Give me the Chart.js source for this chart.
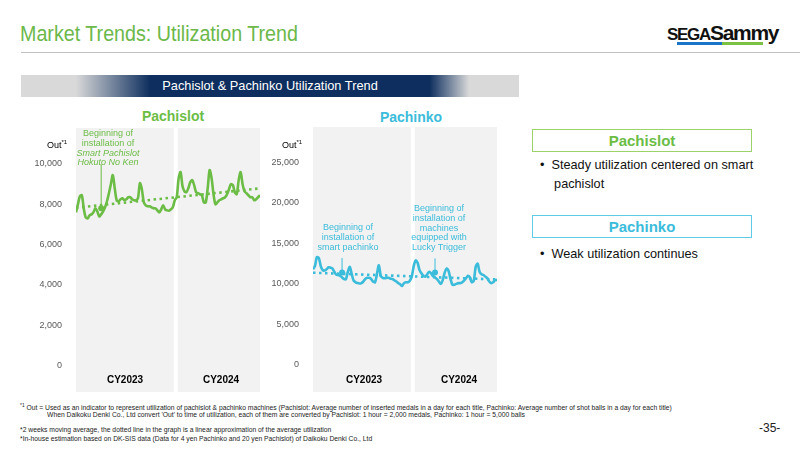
<!DOCTYPE html>
<html><head><meta charset="utf-8">
<script src="https://cdn.jsdelivr.net/npm/chart.js@4.4.1/dist/chart.umd.min.js"></script>
<style>
body{margin:0;width:800px;height:450px;position:relative;overflow:hidden;background:#fff;font-family:"Liberation Sans",Arial,sans-serif;}
.a{position:absolute;white-space:nowrap;}
.note{position:absolute;text-align:center;font-size:9px;line-height:9.8px;white-space:nowrap;transform:translateX(-50%);}
.cy{position:absolute;font-weight:bold;font-size:10px;transform:translateX(-50%);color:#000;}
.out{position:absolute;font-size:9px;color:#000;}
.out sup{font-size:6px;vertical-align:4px;}
.box{position:absolute;left:532px;width:218px;height:21px;border:1.5px solid;text-align:center;font-weight:bold;font-size:15px;line-height:21px;}
.bul{position:absolute;left:540px;font-size:12.7px;line-height:19px;color:#111;}
.fn{position:absolute;left:20px;font-family:"Liberation Sans Narrow","Arial Narrow",sans-serif;font-size:7px;color:#222;white-space:nowrap;transform:scaleX(0.965);transform-origin:0 0;}
</style></head><body>

<div class="a" style="left:20px;top:21px;font-family:'Liberation Sans',Arial,sans-serif;font-size:22.5px;color:#6cb84a;transform:scaleX(0.875);transform-origin:0 0;">Market Trends: Utilization Trend</div>
<div class="a" style="left:21px;top:52px;width:779px;height:1px;background:#c0c0c0;"></div>

<div class="a" style="left:667px;top:21px;font-weight:bold;color:#111;letter-spacing:-1.3px;font-family:'Liberation Sans',Arial,sans-serif;"><span style="font-size:17px;">SEGA</span><span style="font-size:21px;">Sammy</span></div>
<div class="a" style="left:677px;top:42px;width:45px;height:3px;background:#1a75c9;"></div>
<div class="a" style="left:722px;top:42px;width:41px;height:3px;background:#7bc144;"></div>

<div class="a" style="left:21px;top:75px;width:498px;height:22px;background:linear-gradient(to right,#d9d9d9 0%,#d9d9d9 11%,#0d2e5e 26%,#0d2e5e 82%,#d9d9d9 90%,#d9d9d9 100%);color:#fff;text-align:center;font-size:12.8px;line-height:22px;">Pachislot &amp; Pachinko Utilization Trend</div>

<div class="a" style="left:173px;top:108px;transform:translateX(-50%);font-weight:bold;font-size:14px;color:#6cbd45;">Pachislot</div>
<div class="a" style="left:411px;top:109px;transform:translateX(-50%);font-weight:bold;font-size:14px;color:#3bbcdb;">Pachinko</div>

<div class="a" style="left:30px;top:128px;"><canvas id="c1" width="234" height="264"></canvas></div>
<div class="a" style="left:270px;top:127px;"><canvas id="c2" width="231" height="265"></canvas></div>

<div class="out" style="left:47px;top:139px;">Out<sup>*1</sup></div>
<div class="out" style="left:282px;top:139px;">Out<sup>*1</sup></div>

<div class="note" style="left:108px;top:129px;color:#6cbd45;">Beginning of<br>installation of<br><i>Smart Pachislot</i><br><i>Hokuto No Ken</i></div>
<div class="note" style="left:348px;top:223px;color:#3bbcdb;">Beginning of<br>installation of<br>smart pachinko</div>
<div class="note" style="left:439px;top:204px;color:#3bbcdb;">Beginning of<br>installation of<br>machines<br>equipped with<br>Lucky Trigger</div>

<div class="cy" style="left:125px;top:374px;">CY2023</div>
<div class="cy" style="left:221px;top:374px;">CY2024</div>
<div class="cy" style="left:364px;top:374px;">CY2023</div>
<div class="cy" style="left:459px;top:374px;">CY2024</div>

<div class="box" style="top:129px;border-color:#9bd36a;color:#6cbd45;">Pachislot</div>
<div class="bul" style="top:156px;">•&nbsp;&nbsp;Steady utilization centered on smart<br>&nbsp;&nbsp;&nbsp;&nbsp;pachislot</div>
<div class="box" style="top:215px;border-color:#5fcbe6;color:#3bbcdb;">Pachinko</div>
<div class="bul" style="top:245px;">•&nbsp;&nbsp;Weak utilization continues</div>

<div class="fn" style="top:402px;"><sup style="font-size:5px;">*1</sup> Out = Used as an indicator to represent utilization of pachislot &amp; pachinko machines (Pachislot: Average number of inserted medals in a day for each title, Pachinko: Average number of shot balls in a day for each title)</div>
<div class="fn" style="top:411px;left:47px;">When Daikoku Denki Co., Ltd convert 'Out' to time of utilization, each of them are converted by Pachislot: 1 hour = 2,000 medals, Pachinko: 1 hour = 5,000 balls</div>
<div class="fn" style="top:426px;">*2 weeks moving average, the dotted line in the graph is a linear approximation of the average utilization</div>
<div class="fn" style="top:435px;">*In-house estimation based on DK-SIS data (Data for 4 yen Pachinko and 20 yen Pachislot) of Daikoku Denki Co., Ltd</div>
<div class="a" style="left:759px;top:421px;font-size:12px;color:#222;">-35-</div>

<script>
// Weekly index: 0-51 = CY2023, 52-95 = CY2024
const yearLabels = ["CY2023", "CY2024"];
const weeksIn2023 = 52;

const pachislotOut = [7600,8000,8400,8450,7800,7350,7300,7450,7500,7600,7800,7650,7400,7500,7650,7850,8150,8550,9000,9450,
  8800,8200,8150,8250,8300,8200,8250,8350,8350,8250,8200,8200,8300,9050,8750,8100,7950,7900,7900,7850,
  7800,7800,7700,7600,7750,7950,7750,7700,7680,7750,7850,8200,
  8350,9300,9600,8900,8650,8600,8800,9100,9200,8950,8600,8550,8500,8450,8100,8100,8800,9700,
  9300,8500,8000,8100,8200,8250,8300,8350,8500,8750,9000,8950,8600,8500,9200,9600,9000,8650,8550,8450,
  8350,8350,8200,8250,8350,8450];
const pachislotTrend = [7830, 8790];
const pachislotTicks = [0, 2000, 4000, 6000, 8000, 10000];
const pachislotNote = {week: 13, out: 7800, top: 9980};

const pachinkoOut = [11800,12200,13300,13200,12200,11700,11650,11800,12050,12000,11900,11500,11150,11100,11000,10800,10600,10600,11500,12100,
  11200,10400,10200,10100,10050,10100,10300,10600,10750,10750,10600,10300,10200,11200,12300,11000,10750,10700,10750,10750,
  10650,10600,10450,10300,10100,9950,9750,10100,10200,10200,10400,10900,
  12200,12900,12600,11700,11300,11000,10900,11200,11500,11300,10950,10800,10600,10300,10000,10500,11400,11900,
  11600,10600,9900,9900,10000,10100,10100,10200,10400,10700,11000,10800,10200,10400,12100,12500,11500,11200,11100,10900,
  10700,10300,10100,10200,10450,10500];
const pachinkoTrend = [11380, 10550];
const pachinkoTicks = [0, 5000, 10000, 15000, 20000, 25000];
const pachinkoNotes = [{week: 15, out: 11400, top: 13200}, {week: 63, out: 11400, top: 13150}];

// zeroPx: pixel row of value 0 inside the canvas; pxPerUnit: pixels per unit of Out
function makeChart(id, values, trend, ticks, notes, color, zeroPx, pxPerUnit, axisW) {
  const last = values.length - 1;
  const canvas = document.getElementById(id);
  const H = canvas.height;
  const datasets = [
    {data: values.map((v, i) => ({x: i, y: v})), borderColor: color, borderWidth: 2.6, pointRadius: 0, tension: 0.3, fill: false},
    {data: [{x: 0, y: trend[0]}, {x: last, y: trend[1]}], borderColor: color, borderWidth: 2.6, borderDash: [2.5, 3.5], pointRadius: 0, fill: false}
  ];
  notes.forEach(n => {
    datasets.push({data: [{x: n.week, y: n.out}, {x: n.week, y: n.top}], borderColor: color, borderWidth: 1,
      pointRadius: c => c.dataIndex === 0 ? 3 : 0, pointBackgroundColor: color, pointBorderWidth: 0, fill: false});
  });
  const bands = {
    id: 'bands',
    beforeDatasetsDraw(chart) {
      const {ctx, chartArea: a, scales: {x}} = chart;
      const xb = x.getPixelForValue(weeksIn2023 - 0.5);
      ctx.save();
      ctx.fillStyle = '#f2f2f2';
      ctx.fillRect(a.left, 0, xb - 2 - a.left, chart.height);
      ctx.fillRect(xb + 2, 0, a.right - xb - 2, chart.height);
      ctx.restore();
    }
  };
  const chart = new Chart(canvas, {
    type: 'line',
    data: {datasets},
    plugins: [bands],
    options: {
      responsive: false, animation: false, events: [],
      layout: {padding: 0},
      plugins: {legend: {display: false}, tooltip: {enabled: false}, title: {display: false}},
      scales: {
        x: {type: 'linear', min: 0, max: last, display: false},
        y: {
          min: (zeroPx - H) / pxPerUnit, max: zeroPx / pxPerUnit,
          afterBuildTicks: s => { s.ticks = ticks.map(v => ({value: v})); },
          afterFit: s => { s.width = axisW; s.paddingTop = 0; s.paddingBottom = 0; },
          grid: {display: false}, border: {display: false},
          ticks: {padding: 6, color: '#595959', font: {family: 'Liberation Sans, Arial, sans-serif', size: 9},
            callback: v => v.toLocaleString('en-US')}
        }
      }
    }
  });
  // keep the value→pixel mapping fixed whatever area the layout leaves
  const a = chart.chartArea;
  chart.options.scales.y.min = (zeroPx - a.bottom) / pxPerUnit;
  chart.options.scales.y.max = (zeroPx - a.top) / pxPerUnit;
  chart.update();
  return chart;
}

makeChart('c1', pachislotOut, pachislotTrend, pachislotTicks, [pachislotNote], '#6cbd45', 237.5, 0.02015, 46);
makeChart('c2', pachinkoOut, pachinkoTrend, pachinkoTicks, pachinkoNotes, '#3bbcdb', 238, 0.008108, 43);
</script>
</body></html>
